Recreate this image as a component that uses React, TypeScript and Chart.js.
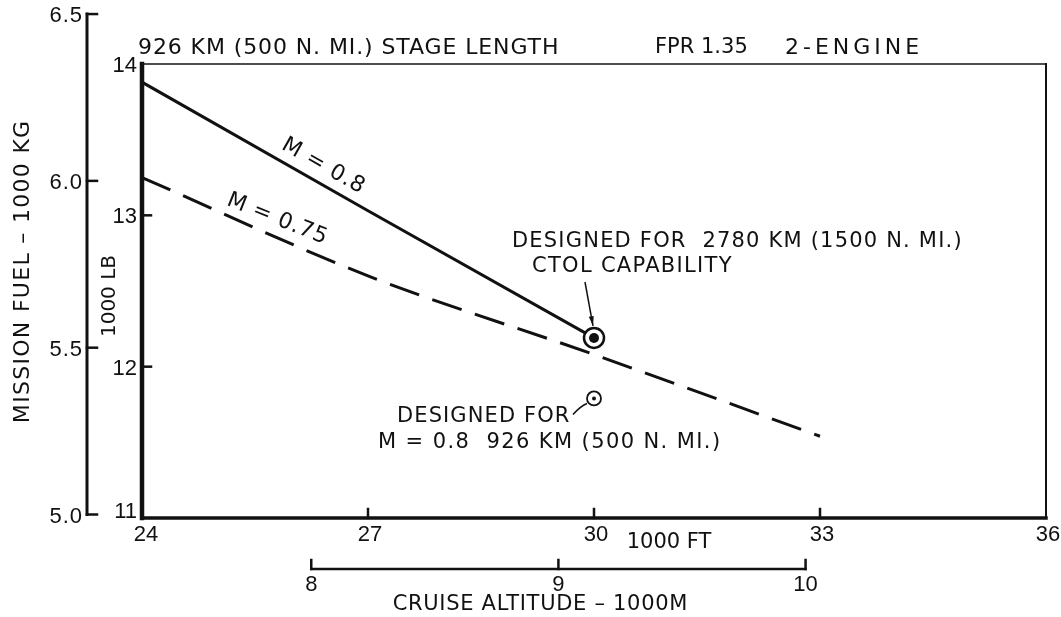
import React, { useEffect, useRef } from "react";
import { Chart, registerables } from "chart.js";

Chart.register(...registerables);

// Cruise altitude, 1000 ft
const altitudeKft = [24, 27, 30, 33];
// Mission fuel, 1000 lb
const fuelM080 = [13.88, 13.03, 12.19];
const fuelM075 = [13.25, 12.6, 12.08, 11.54];
// Design points [altitude kft, fuel 1000 lb]
const design2780Km = [30, 12.19];
const design926Km = [30, 11.79];

// Axis ticks
const xTicksKft = [24, 27, 30, 33, 36];
const yTicksLb = [11, 12, 13, 14];
const yTicksKg = [5.0, 5.5, 6.0, 6.5];
const xTicksKm = [8, 9, 10];

const LB_PER_KG = 2.20462;
const KFT_PER_KM = 3.28084;

const TEXT_FONT = '"DejaVu Sans", sans-serif';
const NUM_FONT = '"Liberation Sans", sans-serif';

function drawText(
  ctx: CanvasRenderingContext2D,
  str: string,
  x: number,
  y: number,
  opts: { size?: number; align?: CanvasTextAlign; family?: string; angle?: number; spacing?: number } = {}
) {
  const { size = 21, align = "left", family = TEXT_FONT, angle = 0, spacing = 0 } = opts;
  ctx.save();
  ctx.translate(x, y);
  if (angle) ctx.rotate(angle);
  ctx.font = `${size}px ${family}`;
  (ctx as any).letterSpacing = `${spacing}px`;
  ctx.textBaseline = "middle";
  ctx.fillStyle = "#111";
  // letter spacing adds trailing space; align on the measured width instead
  const w = ctx.measureText(str).width - spacing;
  let x0 = 0;
  if (align === "center") x0 = -w / 2;
  else if (align === "right") x0 = -w;
  ctx.textAlign = "left";
  ctx.fillText(str, x0, 0);
  ctx.restore();
}

function line(ctx: CanvasRenderingContext2D, pts: number[][], width: number) {
  ctx.beginPath();
  ctx.lineWidth = width;
  ctx.moveTo(pts[0][0], pts[0][1]);
  for (let i = 1; i < pts.length; i++) ctx.lineTo(pts[i][0], pts[i][1]);
  ctx.stroke();
}

const framePlugin = {
  id: "engineeringFrame",
  beforeDatasetsDraw(chart: any) {
    const { ctx, chartArea: a, scales } = chart;
    const xs = scales.x;
    const ys = scales.y;
    ctx.save();
    ctx.strokeStyle = "#111";
    ctx.lineCap = "square";

    // plot frame
    line(ctx, [[a.left, a.top], [a.right, a.top]], 1.5);
    line(ctx, [[a.right, a.top], [a.right, a.bottom]], 2);
    line(ctx, [[a.left, a.bottom], [a.right, a.bottom]], 3.5);
    line(ctx, [[a.left, a.top], [a.left, a.bottom]], 4.5);

    // inner (pound) axis ticks and labels
    yTicksLb.forEach((v) => {
      const py = ys.getPixelForValue(v);
      if (v > 11 && v < 14) line(ctx, [[a.left, py], [a.left + 9, py]], 2.5);
      drawText(ctx, String(v), a.left - 5, py + (v === 11 ? -6 : 2), { align: "right", family: NUM_FONT, size: 22 });
    });

    // altitude ticks (1000 ft)
    xTicksKft.forEach((v) => {
      const px = xs.getPixelForValue(v);
      if (v > 24 && v < 36) line(ctx, [[px, a.bottom], [px, a.bottom - 9]], 2.5);
      drawText(ctx, String(v), px + (v === 24 ? 4 : 2), a.bottom + 17, { align: "center", family: NUM_FONT, size: 22 });
    });

    // outer (kilogram) axis
    const kx = a.left - 55;
    const kTop = ys.getPixelForValue(Math.max(...yTicksKg) * LB_PER_KG);
    const kBot = ys.getPixelForValue(Math.min(...yTicksKg) * LB_PER_KG);
    line(ctx, [[kx, kTop], [kx, kBot]], 3);
    yTicksKg.forEach((v) => {
      const py = ys.getPixelForValue(v * LB_PER_KG);
      line(ctx, [[kx, py], [kx + 10, py]], 2.5);
      drawText(ctx, v.toFixed(1), kx - 5, py + 2, { align: "right", family: NUM_FONT, size: 22, spacing: 1 });
    });

    // metric altitude axis (1000 m)
    const my = a.bottom + 51;
    const mLeft = xs.getPixelForValue(xTicksKm[0] * KFT_PER_KM);
    const mRight = xs.getPixelForValue(xTicksKm[xTicksKm.length - 1] * KFT_PER_KM);
    line(ctx, [[mLeft, my], [mRight, my]], 2.5);
    xTicksKm.forEach((v) => {
      const px = xs.getPixelForValue(v * KFT_PER_KM);
      line(ctx, [[px, my], [px, my - 9]], 2.5);
      drawText(ctx, String(v), px, my + 16, { align: "center", family: NUM_FONT, size: 22 });
    });
    ctx.restore();
  },
  afterDatasetsDraw(chart: any) {
    const { ctx, chartArea: a, scales } = chart;
    const xs = scales.x;
    const ys = scales.y;
    ctx.save();
    ctx.strokeStyle = "#111";
    ctx.fillStyle = "#111";

    // axis titles
    drawText(ctx, "MISSION FUEL \u2013 1000 KG", 23, 272, { angle: -Math.PI / 2, align: "center", size: 22, spacing: 1.3 });
    drawText(ctx, "1000 LB", a.left - 32, 296, { angle: -Math.PI / 2, align: "center", size: 20 });
    drawText(ctx, "1000 FT", 669, a.bottom + 25, { align: "center", size: 21 });
    drawText(ctx, "CRUISE ALTITUDE \u2013 1000M", 540, a.bottom + 87, { align: "center", size: 21, spacing: 0.7 });

    // header
    drawText(ctx, "926 KM (500 N. MI.) STAGE LENGTH", 138, a.top - 16, { size: 22, spacing: 0.9 });
    drawText(ctx, "FPR 1.35", 655, a.top - 16, { size: 21 });
    drawText(ctx, "2-ENGINE", 785, a.top - 16, { size: 22, spacing: 4 });

    // curve labels, rotated along each line
    const p0 = [xs.getPixelForValue(altitudeKft[0]), ys.getPixelForValue(fuelM080[0])];
    const p1 = [xs.getPixelForValue(altitudeKft[2]), ys.getPixelForValue(fuelM080[2])];
    const ang80 = Math.atan2(p1[1] - p0[1], p1[0] - p0[0]);
    drawText(ctx, "M = 0.8", 323, 166, { angle: ang80, align: "center", size: 22, spacing: 0.8 });
    const q0 = [xs.getPixelForValue(altitudeKft[0]), ys.getPixelForValue(fuelM075[0])];
    const q1 = [xs.getPixelForValue(altitudeKft[1]), ys.getPixelForValue(fuelM075[1])];
    const ang75 = Math.atan2(q1[1] - q0[1], q1[0] - q0[0]);
    drawText(ctx, "M = 0.75", 277, 219, { angle: ang75 - 0.03, align: "center", size: 22, spacing: 0.8 });

    // design point callouts
    const d1x = xs.getPixelForValue(design2780Km[0]);
    const d1y = ys.getPixelForValue(design2780Km[1]);
    drawText(ctx, "DESIGNED FOR  2780 KM (1500 N. MI.)", 512, 242, { size: 21, spacing: 1.2 });
    drawText(ctx, "CTOL CAPABILITY", 532, 267, { size: 21, spacing: 1.3 });
    const sx = d1x - 9, sy = 282, ex = d1x - 1, ey = d1y - 12;
    line(ctx, [[sx, sy], [ex, ey]], 1.5);
    const aa = Math.atan2(ey - sy, ex - sx);
    ctx.beginPath();
    ctx.moveTo(ex, ey);
    ctx.lineTo(ex - 10 * Math.cos(aa - 0.25), ey - 10 * Math.sin(aa - 0.25));
    ctx.lineTo(ex - 10 * Math.cos(aa + 0.25), ey - 10 * Math.sin(aa + 0.25));
    ctx.closePath();
    ctx.fill();

    const d2x = xs.getPixelForValue(design926Km[0]);
    const d2y = ys.getPixelForValue(design926Km[1]);
    drawText(ctx, "DESIGNED FOR", 397, 417, { size: 21, spacing: 1.1 });
    drawText(ctx, "M = 0.8  926 KM (500 N. MI.)", 378, 443, { size: 21, spacing: 1.4 });
    ctx.beginPath();
    ctx.lineWidth = 1.5;
    ctx.moveTo(d2x - 21, d2y + 16);
    ctx.quadraticCurveTo(d2x - 14, d2y + 8, d2x - 7, d2y + 5);
    ctx.stroke();
    ctx.restore();
  },
};

export default function App() {
  const ref = useRef<HTMLCanvasElement | null>(null);

  useEffect(() => {
    if (!ref.current) return;
    const chart = new Chart(ref.current, {
      type: "line",
      data: {
        datasets: [
          {
            label: "design 2780 km core",
            data: [{ x: design2780Km[0], y: design2780Km[1] }],
            showLine: false,
            pointRadius: 5,
            pointBackgroundColor: "#111",
            pointBorderWidth: 0,
            order: 0,
          },
          {
            label: "design 2780 km",
            data: [{ x: design2780Km[0], y: design2780Km[1] }],
            showLine: false,
            pointRadius: 10,
            pointBackgroundColor: "#fff",
            pointBorderColor: "#111",
            pointBorderWidth: 2.5,
            order: 1,
          },
          {
            label: "design 926 km core",
            data: [{ x: design926Km[0], y: design926Km[1] }],
            showLine: false,
            pointRadius: 2,
            pointBackgroundColor: "#111",
            pointBorderWidth: 0,
            order: 0,
          },
          {
            label: "design 926 km",
            data: [{ x: design926Km[0], y: design926Km[1] }],
            showLine: false,
            pointRadius: 7,
            pointBackgroundColor: "#fff",
            pointBorderColor: "#111",
            pointBorderWidth: 1.8,
            order: 1,
          },
          {
            label: "M = 0.8",
            data: fuelM080.map((y, i) => ({ x: altitudeKft[i], y })),
            borderColor: "#111",
            borderWidth: 3,
            pointRadius: 0,
            tension: 0,
            order: 2,
          },
          {
            label: "M = 0.75",
            data: fuelM075.map((y, i) => ({ x: altitudeKft[i], y })),
            borderColor: "#111",
            borderWidth: 3,
            borderDash: [31, 14],
            pointRadius: 0,
            cubicInterpolationMode: "monotone",
            order: 2,
          },
        ],
      },
      options: {
        animation: false,
        responsive: false,
        devicePixelRatio: 1,
        layout: { padding: { left: 142, top: 64, right: 15, bottom: 99 } },
        scales: {
          x: { type: "linear", min: 24, max: 36, display: false },
          y: { type: "linear", min: 11, max: 14, display: false },
        },
        plugins: { legend: { display: false }, tooltip: { enabled: false } },
      },
      plugins: [framePlugin],
    });
    return () => chart.destroy();
  }, []);

  return (
    <div style={{ position: "fixed", left: 0, top: 0, width: 1061, height: 617, background: "#fff" }}>
      <canvas ref={ref} width={1061} height={617} style={{ width: 1061, height: 617 }} />
    </div>
  );
}
